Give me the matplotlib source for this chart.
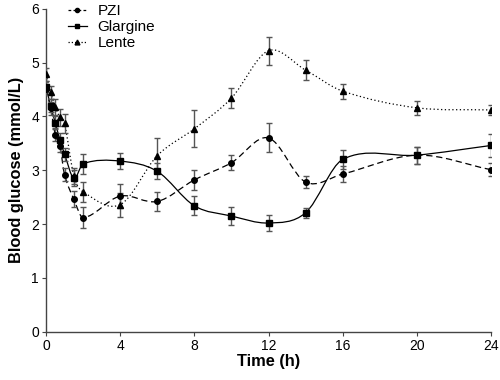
import numpy as np
import matplotlib
matplotlib.use("Agg")
import matplotlib.pyplot as plt
from matplotlib.path import Path
from matplotlib.patches import PathPatch
from matplotlib.lines import Line2D

# Values
time_h = [0, 0.25, 0.5, 0.75, 1, 1.5, 2, 4, 6, 8, 10, 12, 14, 16, 20, 24]

pzi = [4.50, 4.15, 3.66, 3.45, 2.92, 2.46, 2.12, 2.52, 2.42, 2.82, 3.14, 3.60, 2.78, 2.93, 3.28, 3.01]
pzi_err = [0.10, 0.12, 0.12, 0.12, 0.12, 0.15, 0.20, 0.22, 0.18, 0.19, 0.14, 0.27, 0.11, 0.15, 0.16, 0.12]

glargine = [4.55, 4.20, 3.88, 3.57, 3.30, 2.85, 3.12, 3.17, 2.98, 2.34, 2.15, 2.02, 2.21, 3.20, 3.28, 3.46]
glargine_err = [0.10, 0.12, 0.12, 0.12, 0.12, 0.15, 0.19, 0.15, 0.15, 0.18, 0.17, 0.15, 0.09, 0.18, 0.16, 0.22]

lente = [4.78, 4.45, 4.18, 3.98, 3.87, 2.90, 2.60, 2.36, 3.27, 3.77, 4.34, 5.22, 4.86, 4.47, 4.16, 4.12]
lente_err = [0.12, 0.12, 0.15, 0.15, 0.18, 0.15, 0.19, 0.22, 0.33, 0.34, 0.19, 0.26, 0.19, 0.14, 0.13, 0.10]

x_ticks = [0, 4, 8, 12, 16, 20, 24]
y_ticks = [0, 1, 2, 3, 4, 5, 6]

plt.rcParams["font.family"] = ["Liberation Sans", "DejaVu Sans"]


def smooth_path(x, y):
    # cubic Bezier through the points (smoothed line like the original)
    x = np.asarray(x, float)
    y = np.asarray(y, float)
    n = len(x)
    m = np.zeros(n)
    m[0] = (y[1] - y[0]) / (x[1] - x[0])
    m[-1] = (y[-1] - y[-2]) / (x[-1] - x[-2])
    for i in range(1, n - 1):
        m[i] = (y[i + 1] - y[i - 1]) / (x[i + 1] - x[i - 1])
    verts = [(x[0], y[0])]
    codes = [Path.MOVETO]
    for i in range(n - 1):
        h = x[i + 1] - x[i]
        verts += [(x[i] + h / 3, y[i] + m[i] * h / 3),
                  (x[i + 1] - h / 3, y[i + 1] - m[i + 1] * h / 3),
                  (x[i + 1], y[i + 1])]
        codes += [Path.CURVE4] * 3
    return Path(verts, codes)


fig = plt.figure(figsize=(5, 3.8), dpi=100)
ax = fig.add_axes([0.092, 0.127, 0.89, 0.85])

# name, values, errors, marker, size, line style, legend line style
series = [
    ("PZI", pzi, pzi_err, "o", 4, (0, (5, 3)), (0, (2.2, 1.8))),
    ("Glargine", glargine, glargine_err, "s", 4.5, "-", "-"),
    ("Lente", lente, lente_err, "^", 4.5, (0, (1, 2)), (0, (1, 1.6))),
]

handles = []
for name, vals, errs, mk, ms, ls, leg_ls in series:
    ax.add_patch(PathPatch(smooth_path(time_h, vals), facecolor="none",
                           edgecolor="black", lw=0.9, linestyle=ls, zorder=2))
    ax.errorbar(time_h, vals, yerr=errs, fmt="none", ecolor="#555555",
                elinewidth=1.0, capsize=2.5, capthick=1.0, zorder=3)
    ax.plot(time_h, vals, linestyle="none", marker=mk, ms=ms, color="black", zorder=4)
    handles.append(Line2D([], [], color="black", lw=0.9, linestyle=leg_ls,
                          marker=mk, ms=ms - 1, label=name))

ax.set_xlim(0, 24)
ax.set_ylim(0, 6)
ax.set_xticks(x_ticks)
ax.set_yticks(y_ticks)
ax.tick_params(labelsize=10, length=3, width=0.8, color="#444444", pad=2)

for side in ["top", "right"]:
    ax.spines[side].set_visible(False)
for side in ["left", "bottom"]:
    ax.spines[side].set_color("#444444")
    ax.spines[side].set_linewidth(1.0)

ax.set_xlabel("Time (h)", fontsize=11.8, fontweight="bold", labelpad=1)
ax.set_ylabel("Blood glucose (mmol/L)", fontsize=11.8, fontweight="bold", labelpad=5)

ax.legend(handles=handles, loc="upper left", bbox_to_anchor=(0.05, 1.015),
          frameon=False, fontsize=11, handlelength=1.2, handletextpad=0.7,
          labelspacing=0.15, borderaxespad=0, borderpad=0)

fig.savefig("out.png", dpi=100)
